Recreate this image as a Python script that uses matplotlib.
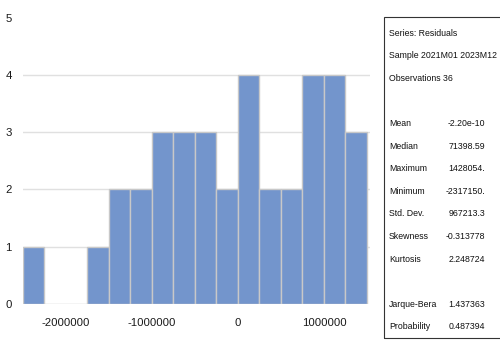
import matplotlib.pyplot as plt
from matplotlib import font_manager
from matplotlib.patches import Rectangle
import numpy as np

# histogram of residuals, bins of 250000
bin_start = -2500000
bin_width = 250000
counts = [1, 0, 0, 1, 2, 2, 3, 3, 3, 2, 4, 2, 2, 4, 4, 3]

x_ticks = [-2000000, -1000000, 0, 1000000]
x_labels = ['-2000000', '-1000000', '0', '1000000']
y_ticks = [0, 1, 2, 3, 4, 5]

stat_header = ['Series: Residuals', 'Sample 2021M01 2023M12', 'Observations 36']
stat_names = ['Mean', 'Median', 'Maximum', 'Minimum', 'Std. Dev.', 'Skewness', 'Kurtosis']
stat_values = ['-2.20e-10', '71398.59', '1428054.', '-2317150.', '967213.3', '-0.313778', '2.248724']
test_names = ['Jarque-Bera', 'Probability']
test_values = ['1.437363', '0.487394']

# narrow font if there is one, else plain Liberation Sans a bit smaller
have = {f.name for f in font_manager.fontManager.ttflist}
if 'Liberation Sans Narrow' in have:
    face, tick_size, panel_size = 'Liberation Sans Narrow', 9.5, 7.2
else:
    face, tick_size, panel_size = 'Liberation Sans', 8.2, 6.3
plt.rcParams['font.family'] = [face, 'DejaVu Sans']

W, H = 500, 341
fig = plt.figure(figsize=(W / 100, H / 100), dpi=100)
ax = fig.add_axes([23 / W, 37 / H, 347 / W, 286.5 / H])

edges = bin_start + bin_width * np.arange(len(counts))
ax.bar(edges, counts, width=bin_width, align='edge', color='#7395cc',
       edgecolor='#c8c8c8', linewidth=1.0, zorder=2)

ax.set_xlim(bin_start, bin_start + bin_width * len(counts) + 35000)
ax.set_ylim(0, 5)
ax.set_xticks(x_ticks)
ax.set_xticklabels(x_labels)
ax.set_yticks(y_ticks)
ax.tick_params(axis='both', length=0, labelsize=tick_size, colors='#1a1a1a')
ax.tick_params(axis='x', pad=10)
ax.tick_params(axis='y', pad=8)
ax.grid(axis='y', color='#e0e0e0', linewidth=1.0, zorder=0)
# no line along the bottom or the top
grid = ax.yaxis.get_gridlines()
grid[0].set_visible(False)
grid[-1].set_visible(False)
for s in ax.spines.values():
    s.set_visible(False)

# statistics panel
fig.patches.append(Rectangle((384 / W, 3 / H), 130 / W, 321 / H,
                             transform=fig.transFigure, fill=False,
                             edgecolor='#333333', linewidth=0.8))

def put(label, value, y):
    fig.text(389 / W, 1 - y / H, label, fontsize=panel_size, va='center', ha='left', color='#111111')
    if value is not None:
        fig.text(485 / W, 1 - y / H, value, fontsize=panel_size, va='center', ha='right', color='#111111')

step = 22.6
y = 33
for line in stat_header:
    put(line, None, y)
    y += step
y += step
for name, val in zip(stat_names, stat_values):
    put(name, val, y)
    y += step
y += step
for name, val in zip(test_names, test_values):
    put(name, val, y)
    y += step

fig.savefig('out.png', dpi=100)
